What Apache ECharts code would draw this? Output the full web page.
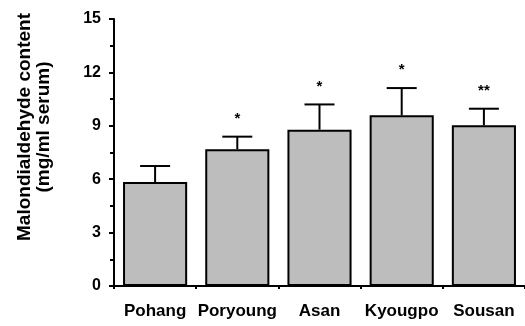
<!DOCTYPE html>
<html><head><meta charset="utf-8">
<script src="https://cdn.jsdelivr.net/npm/echarts@6/dist/echarts.min.js"></script>
<style>html,body{margin:0;padding:0;background:#fff}#c{width:525px;height:326px}</style>
</head><body><div id="c"></div>
<script>
var categories = ['Pohang', 'Poryoung', 'Asan', 'Kyougpo', 'Sousan'];
var means = [5.84, 7.68, 8.78, 9.59, 9.03];
var errorTops = [6.74, 8.39, 10.2, 11.12, 9.96];
var marks = ['', '*', '*', '*', '**'];
var yTicks = [0, 3, 6, 9, 12, 15];

var chart = echarts.init(document.getElementById('c'));
var font = 'Liberation Sans, Arial, sans-serif';
chart.setOption({
  animation: false,
  grid: { left: 114, right: 0, top: 19, bottom: 40 },
  xAxis: {
    type: 'category', data: categories,
    axisLine: { lineStyle: { color: '#000', width: 2 } },
    axisTick: { show: true, length: 3, lineStyle: { color: '#000', width: 2 } },
    axisLabel: { color: '#000', fontFamily: font, fontWeight: 'bold', fontSize: 17, margin: 17,
      interval: 0, hideOverlap: false }
  },
  yAxis: {
    type: 'value', min: yTicks[0], max: yTicks[yTicks.length - 1], interval: 3,
    splitLine: { show: false },
    axisLine: { show: true, lineStyle: { color: '#000', width: 2 } },
    axisTick: { show: true, length: 5, lineStyle: { color: '#000', width: 2 } },
    minorTick: { show: true, splitNumber: 2, length: 4, lineStyle: { color: '#000', width: 2 } },
    axisLabel: { color: '#000', fontFamily: font, fontWeight: 'bold', fontSize: 16, margin: 13 }
  },
  graphic: [{
    type: 'text', rotation: Math.PI / 2,
    style: { text: 'Malondialdehyde content\n(mg/ml serum)', fill: '#000', font: 'bold 19px ' + font,
      textAlign: 'center', textVerticalAlign: 'middle', lineHeight: 19 },
    x: 34, y: 127
  }],
  series: [{
    type: 'bar', data: means, barWidth: '78%',
    itemStyle: { color: '#bdbdbd', borderColor: '#000', borderWidth: 2 }
  }, {
    type: 'custom',
    data: categories.map(function (c, i) { return [i, means[i], errorTops[i]]; }),
    renderItem: function (params, api) {
      var x = api.coord([api.value(0), 0])[0];
      var yb = api.coord([0, api.value(1)])[1];
      var yt = api.coord([0, api.value(2)])[1];
      var hw = 15;
      var mark = marks[params.dataIndex];
      return {
        type: 'group',
        children: [
          { type: 'line', shape: { x1: x, y1: yb, x2: x, y2: yt }, style: { stroke: '#000', lineWidth: 2 } },
          { type: 'line', shape: { x1: x - hw, y1: yt, x2: x + hw, y2: yt }, style: { stroke: '#000', lineWidth: 2 } },
          { type: 'text', x: x, y: yt - 18, style: { text: mark, fill: '#000', font: 'bold 15px ' + font, align: 'center', verticalAlign: 'middle' } }
        ]
      };
    },
    z: 5
  }]
});
</script></body></html>
